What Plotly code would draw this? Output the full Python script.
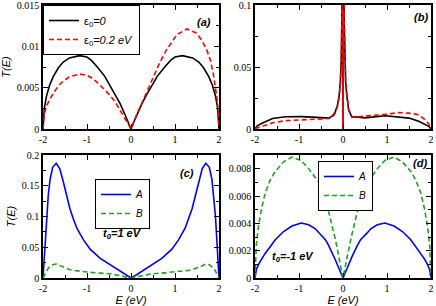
import plotly.graph_objects as go

# ---------- data ----------
# panel (a)
E_a = [-2, -1.97, -1.92, -1.85, -1.77, -1.65, -1.54, -1.4, -1.17, -1.0, -0.9, -0.78, -0.6, -0.48, -0.35, -0.25, -0.15, -0.07, 0,
       0.07, 0.15, 0.25, 0.35, 0.48, 0.6, 0.78, 0.9, 1.0, 1.17, 1.4, 1.54, 1.65, 1.77, 1.85, 1.92, 1.97, 2]
T_a_eps0 = [0, 0.0025, 0.0040, 0.0053, 0.0063, 0.0074, 0.0081, 0.0086, 0.00887, 0.0087, 0.0083, 0.0076, 0.0064, 0.0053, 0.0041, 0.0031, 0.0019, 0.0009, 0,
            0.0009, 0.0019, 0.0031, 0.0041, 0.0053, 0.0064, 0.0076, 0.0083, 0.0087, 0.00887, 0.0086, 0.0081, 0.0074, 0.0063, 0.0053, 0.0040, 0.0025, 0]
E_a2 = [-2, -1.97, -1.92, -1.85, -1.77, -1.65, -1.54, -1.4, -1.17, -1.0, -0.9, -0.78, -0.6, -0.48, -0.35, -0.25, -0.15, -0.07, 0,
        0.07, 0.15, 0.21, 0.35, 0.51, 0.65, 0.81, 1.04, 1.27, 1.49, 1.6, 1.72, 1.8, 1.87, 1.92, 1.95, 1.98, 2]
T_a_eps02 = [0, 0.0018, 0.0028, 0.0036, 0.0043, 0.0052, 0.0058, 0.0063, 0.00665, 0.0065, 0.0062, 0.0057, 0.0048, 0.0041, 0.0032, 0.0023, 0.0014, 0.0007, 0,
             0.0010, 0.0020, 0.0027, 0.0045, 0.0063, 0.0080, 0.0096, 0.0114, 0.0121, 0.0116, 0.0108, 0.0096, 0.0084, 0.0067, 0.0052, 0.0039, 0.0024, 0]

# panel (b)
E_b = [-2, -1.95, -1.84, -1.6, -1.31, -0.93, -0.6, -0.33, -0.24, -0.18, -0.13, -0.09, -0.06, -0.04, -0.025, -0.012, 0,
       0.012, 0.025, 0.04, 0.06, 0.09, 0.13, 0.2, 0.5, 0.96, 1.27, 1.5, 1.72, 1.87, 1.95, 2]
T_b_eps0 = [0, 0.0025, 0.0046, 0.0085, 0.0099, 0.0100, 0.0094, 0.0088, 0.0105, 0.0135, 0.0185, 0.026, 0.038, 0.055, 0.09, 0.2, 0,
            0.2, 0.09, 0.055, 0.038, 0.026, 0.015, 0.0100, 0.0090, 0.0107, 0.0099, 0.0088, 0.0062, 0.0038, 0.0022, 0]
T_b_eps02 = [0, 0.0010, 0.0020, 0.0050, 0.0067, 0.0074, 0.0078, 0.0084, 0.0095, 0.0125, 0.0175, 0.025, 0.037, 0.054, 0.09, 0.2, 0,
             0.2, 0.09, 0.055, 0.039, 0.027, 0.016, 0.0094, 0.0102, 0.0118, 0.0132, 0.0128, 0.0115, 0.0073, 0.0040, 0]

# panel (c), t0 = 1 eV
E_c = [-2, -1.96, -1.92, -1.88, -1.84, -1.78, -1.70, -1.62, -1.54, -1.46, -1.39, -1.31, -1.23, -1.08, -0.93, -0.70, -0.48, -0.25, -0.1, 0,
       0.1, 0.25, 0.48, 0.70, 0.93, 1.08, 1.23, 1.31, 1.39, 1.46, 1.54, 1.62, 1.70, 1.78, 1.84, 1.88, 1.92, 1.96, 2]
T_c_A = [0, 0.05, 0.10, 0.135, 0.160, 0.180, 0.1865, 0.178, 0.157, 0.133, 0.113, 0.096, 0.081, 0.062, 0.047, 0.032, 0.0216, 0.011, 0.004, 0,
         0.004, 0.011, 0.0216, 0.032, 0.047, 0.062, 0.081, 0.096, 0.113, 0.133, 0.157, 0.178, 0.1865, 0.180, 0.160, 0.135, 0.10, 0.05, 0]
T_c_B = [0, 0.006, 0.011, 0.016, 0.019, 0.0215, 0.0227, 0.020, 0.0173, 0.015, 0.0135, 0.0124, 0.0115, 0.0102, 0.0092, 0.0080, 0.0068, 0.0038, 0.0015, 0,
         0.0015, 0.0038, 0.0068, 0.0080, 0.0092, 0.0102, 0.0115, 0.0124, 0.0135, 0.015, 0.0173, 0.020, 0.0227, 0.0215, 0.019, 0.016, 0.011, 0.006, 0]

# panel (d), t0 = -1 eV
E_d = [-2, -1.97, -1.92, -1.85, -1.77, -1.65, -1.54, -1.35, -1.16, -0.95, -0.78, -0.63, -0.55, -0.40, -0.33, -0.21, -0.17, -0.08, 0,
       0.08, 0.17, 0.21, 0.33, 0.40, 0.55, 0.63, 0.78, 0.95, 1.16, 1.35, 1.54, 1.65, 1.77, 1.85, 1.92, 1.97, 2]
T_d_A = [0, 0.0006, 0.0010, 0.0014, 0.0018, 0.0023, 0.0028, 0.0034, 0.0038, 0.00402, 0.0039, 0.0036, 0.0033, 0.0028, 0.0024, 0.0016, 0.0013, 0.0006, 0,
         0.0006, 0.0013, 0.0016, 0.0024, 0.0028, 0.0033, 0.0036, 0.0039, 0.00402, 0.0038, 0.0034, 0.0028, 0.0023, 0.0018, 0.0014, 0.0010, 0.0006, 0]
T_d_B = [0, 0.0024, 0.0038, 0.0051, 0.0062, 0.0072, 0.0078, 0.0085, 0.00885, 0.0086, 0.0080, 0.0073, 0.0070, 0.0056, 0.0049, 0.0033, 0.0028, 0.0013, 0,
         0.0013, 0.0028, 0.0033, 0.0049, 0.0056, 0.0070, 0.0073, 0.0080, 0.0086, 0.00885, 0.0085, 0.0078, 0.0072, 0.0062, 0.0051, 0.0038, 0.0024, 0]

x_ticks = [-2, -1, 0, 1, 2]
x_ticktext = ["-2", "-1", "0", "1", "2"]

# ---------- figure ----------
W, H = 436, 306
def px_x(p): return p / W
def px_y(p): return 1 - p / H

fig = go.Figure()
GREEN = "rgb(34,160,34)"
DASH = "5px,3px"

fig.add_trace(go.Scatter(x=E_a, y=T_a_eps0, mode="lines", line=dict(color="black", width=1.6),
                         name="ε<sub>0</sub><i>=0</i>", xaxis="x", yaxis="y", legend="legend"))
fig.add_trace(go.Scatter(x=E_a2, y=T_a_eps02, mode="lines", line=dict(color="red", width=1.6, dash=DASH),
                         name="ε<sub>0</sub><i>=0.2 eV</i>", xaxis="x", yaxis="y", legend="legend"))
fig.add_trace(go.Scatter(x=E_b, y=T_b_eps0, mode="lines", line=dict(color="black", width=1.6),
                         showlegend=False, xaxis="x2", yaxis="y2"))
fig.add_trace(go.Scatter(x=E_b, y=T_b_eps02, mode="lines", line=dict(color="red", width=1.6, dash=DASH),
                         showlegend=False, xaxis="x2", yaxis="y2"))
fig.add_trace(go.Scatter(x=E_c, y=T_c_A, mode="lines", line=dict(color="blue", width=1.6),
                         name="<i>A</i>", xaxis="x3", yaxis="y3", legend="legend2"))
fig.add_trace(go.Scatter(x=E_c, y=T_c_B, mode="lines", line=dict(color=GREEN, width=1.6, dash=DASH),
                         name="<i>B</i>", xaxis="x3", yaxis="y3", legend="legend2"))
fig.add_trace(go.Scatter(x=E_d, y=T_d_A, mode="lines", line=dict(color="blue", width=1.6),
                         name="<i>A</i>", xaxis="x4", yaxis="y4", legend="legend3"))
fig.add_trace(go.Scatter(x=E_d, y=T_d_B, mode="lines", line=dict(color=GREEN, width=1.6, dash=DASH),
                         name="<i>B</i>", xaxis="x4", yaxis="y4", legend="legend3"))

tickfont = dict(family="Liberation Serif", size=10, color="black")
titlefont = dict(family="Liberation Sans", size=11, color="black")

def xaxis(dom, anchor, title=None):
    d = dict(domain=dom, anchor=anchor, range=[-2, 2], tickvals=x_ticks, ticktext=x_ticktext,
             ticks="inside", ticklen=5, tickwidth=1, tickcolor="black",
             minor=dict(dtick=0.5, tick0=0, ticks="inside", ticklen=3, tickcolor="black"),
             showline=True, linecolor="black", linewidth=1.5, mirror="ticks",
             showgrid=False, zeroline=False, tickfont=tickfont, automargin=False,
             ticklabeloverflow="allow")
    if title:
        d["title"] = dict(text=title, font=titlefont, standoff=2)
    return d

def yaxis(dom, anchor, rng, dtick, minor, title=None):
    d = dict(domain=dom, anchor=anchor, range=rng, dtick=dtick, tick0=0,
             ticks="inside", ticklen=5, tickwidth=1, tickcolor="black",
             minor=dict(dtick=minor, tick0=0, ticks="inside", ticklen=3, tickcolor="black"),
             showline=True, linecolor="black", linewidth=1.5, mirror="ticks",
             showgrid=False, zeroline=False, tickfont=tickfont, automargin=False,
             ticklabeloverflow="allow")
    if title:
        d["title"] = dict(text=title, font=titlefont, standoff=4)
    return d

xa = [px_x(43), px_x(219)]
xb = [px_x(255), px_x(431)]
ytop = [px_y(129), px_y(5)]
ybot = [px_y(278), px_y(155)]

def legend_common(size):
    return dict(bgcolor="white", bordercolor="black", borderwidth=1,
                font=dict(family="Liberation Sans", size=size, color="black"),
                xanchor="left", yanchor="top", tracegroupgap=0, itemwidth=30)

fig.update_layout(
    width=W, height=H, margin=dict(l=0, r=0, t=0, b=0, autoexpand=False),
    paper_bgcolor="white", plot_bgcolor="white",
    xaxis=xaxis(xa, "y"),
    yaxis=yaxis(ytop, "x", [0, 0.015], 0.005, 0.0025, "<i>T(E)</i>"),
    xaxis2=xaxis(xb, "y2"),
    yaxis2=yaxis(ytop, "x2", [0, 0.1], 0.05, 0.025),
    xaxis3=xaxis(xa, "y3", "<i>E (eV)</i>"),
    yaxis3=yaxis(ybot, "x3", [0, 0.2], 0.05, 0.025, "<i>T(E)</i>"),
    xaxis4=xaxis(xb, "y4", "<i>E (eV)</i>"),
    yaxis4=yaxis(ybot, "x4", [0, 0.009], 0.002, 0.001),
    legend=dict(x=px_x(43), y=px_y(5), **legend_common(11)),
    legend2=dict(x=px_x(95), y=px_y(179), **legend_common(10)),
    legend3=dict(x=px_x(318), y=px_y(161), **legend_common(10)),
    showlegend=True,
)

ann_font = dict(family="Liberation Sans", size=11, color="black")
labels = [("<b><i>(a)</i></b>", 204, 22), ("<b><i>(b)</i></b>", 421, 17),
          ("<b><i>(c)</i></b>", 187, 173), ("<b><i>(d)</i></b>", 420, 163),
          ("<b><i>t<sub>0</sub>=1 eV</i></b>", 122, 234), ("<b><i>t<sub>0</sub>=-1 eV</i></b>", 293, 257)]
for txt, x, y in labels:
    fig.add_annotation(text=txt, x=px_x(x), y=px_y(y), xref="paper", yref="paper",
                       showarrow=False, font=ann_font, xanchor="center", yanchor="middle")

fig.write_html("out.html", config={"displayModeBar": False},
               post_script="document.body.style.margin='0';")
